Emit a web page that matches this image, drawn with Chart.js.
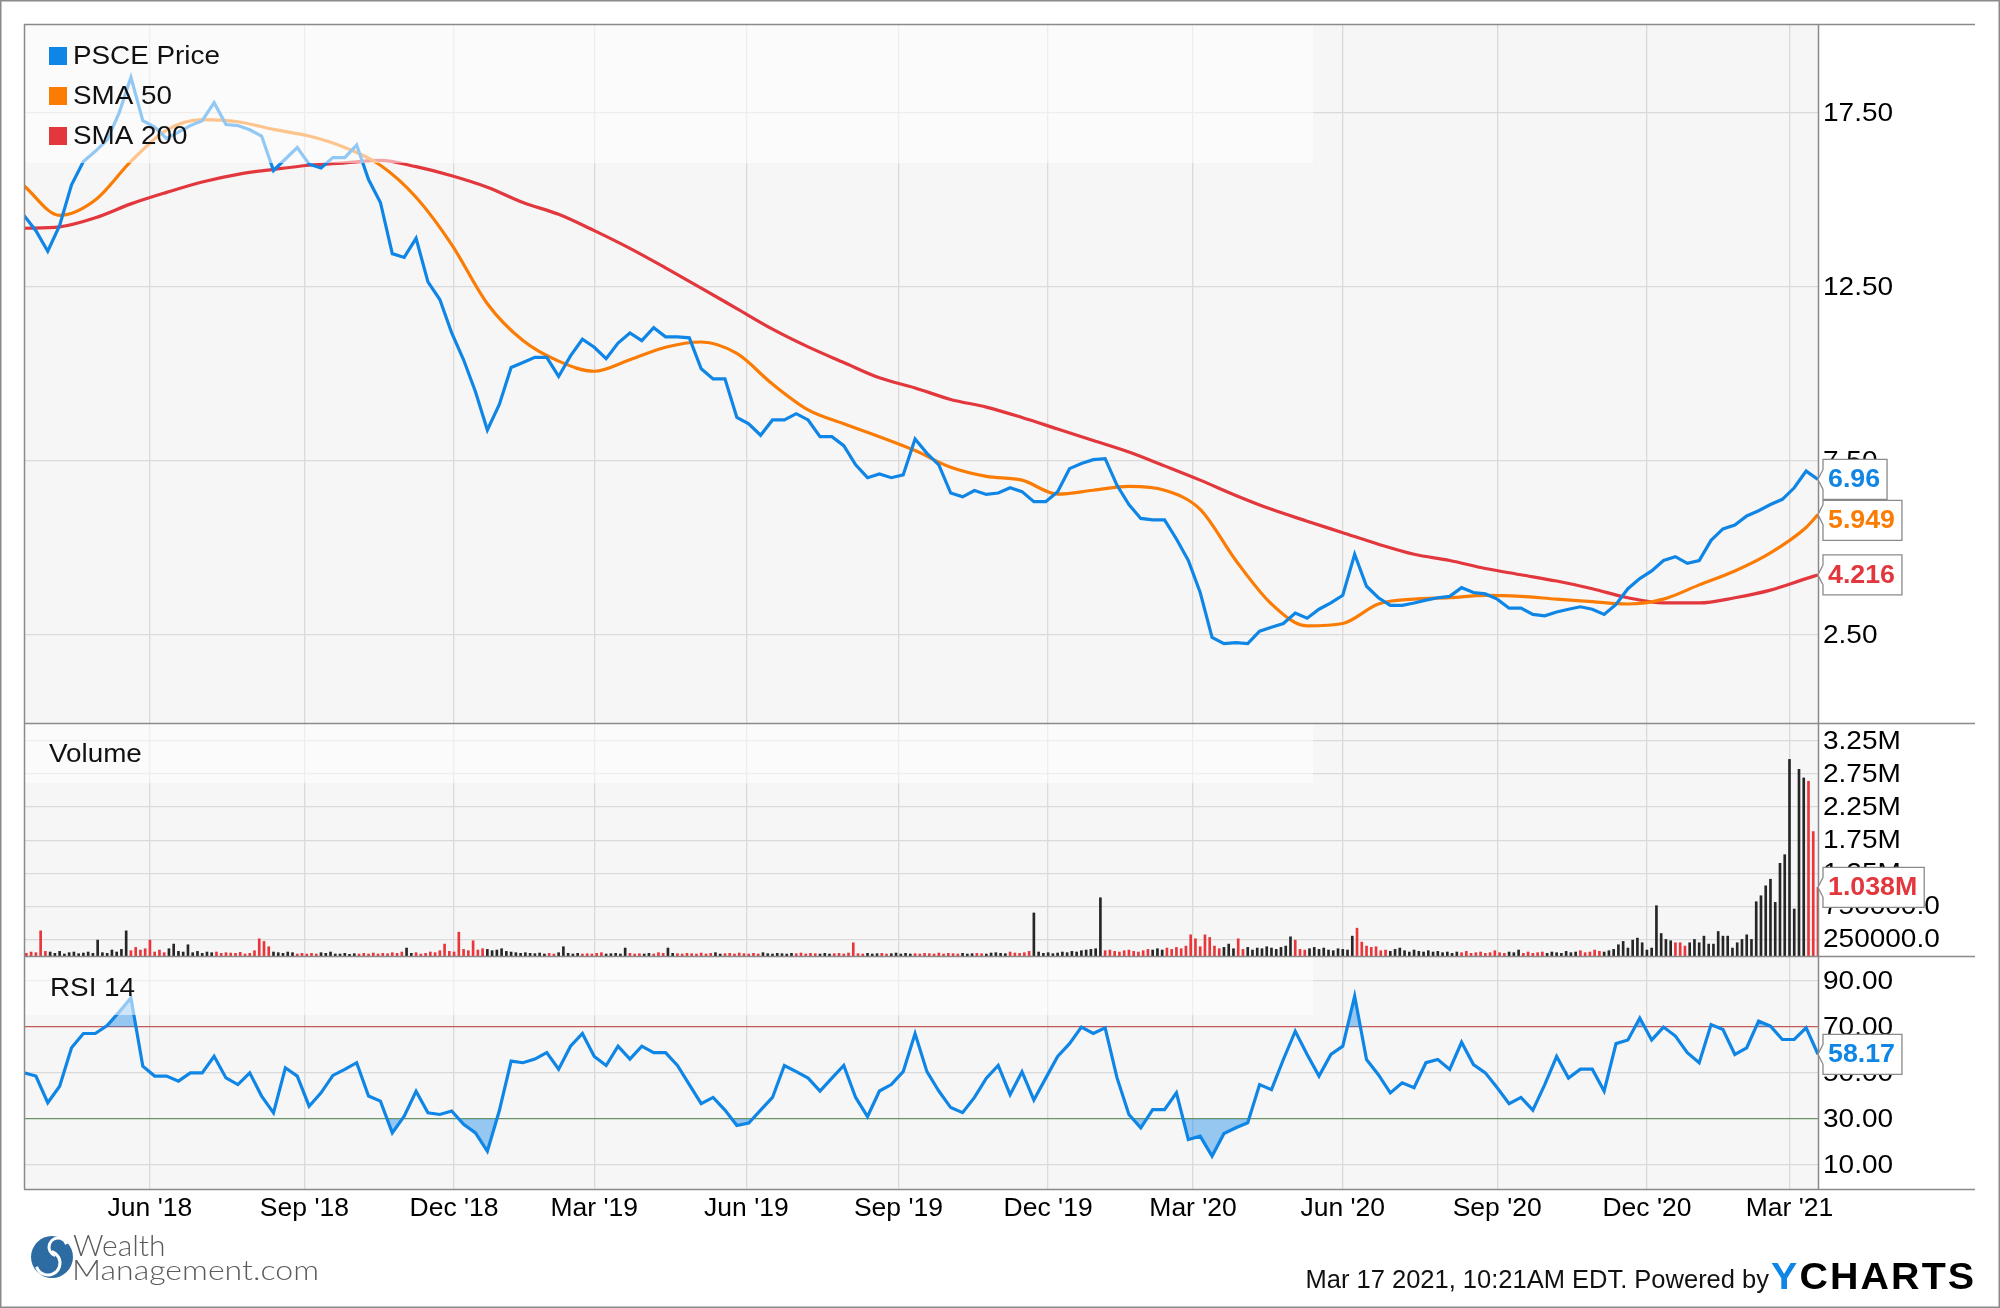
<!DOCTYPE html>
<html lang="en">
<head>
  <meta charset="UTF-8">
  <title>PSCE Price, SMA, Volume and RSI</title>
  <script src="https://cdn.jsdelivr.net/npm/chart.js"></script>
  <style>
    html, body { margin: 0; padding: 0; background: #fff; }
    canvas { display: block; }
  </style>
</head>
<body>
  <canvas id="psceChart" width="2000" height="1308"></canvas>

  <script>
    // x = trading day counted from mid-March 2018 (day 755 = Mar 17 2021)
    const lastDay = 755;
    const monthTicks = [53, 118, 181, 240, 304, 368, 431, 492, 555, 620, 683, 743];
    const monthLabels = ["Jun '18", "Sep '18", "Dec '18", "Mar '19", "Jun '19", "Sep '19",
                         "Dec '19", "Mar '20", "Jun '20", "Sep '20", "Dec '20", "Mar '21"];

    // PSCE price, one reading every 5 trading days
    const priceStep = 5;
    const price = [
      14.55, 14.11, 13.52, 14.26, 15.43, 16.10, 16.39, 16.72, 17.49, 18.52,
      17.27, 17.09, 16.76, 16.94, 17.13, 17.27, 17.79, 17.16, 17.13, 17.01,
      16.83, 15.84, 16.17, 16.50, 16.02, 15.91, 16.21, 16.21, 16.57, 15.58,
      14.92, 13.45, 13.34, 13.89, 12.64, 12.13, 11.17, 10.40, 9.48, 8.38,
      9.11, 10.18, 10.32, 10.47, 10.47, 9.92, 10.51, 10.99, 10.76, 10.43,
      10.88, 11.17, 10.95, 11.32, 11.06, 11.06, 11.03, 10.14, 9.85, 9.85,
      8.74, 8.56, 8.23, 8.67, 8.67, 8.85, 8.67, 8.19, 8.19, 7.93,
      7.38, 7.01, 7.12, 7.01, 7.09, 8.12, 7.71, 7.38, 6.57, 6.46,
      6.64, 6.53, 6.57, 6.72, 6.61, 6.32, 6.32, 6.61, 7.27, 7.42,
      7.53, 7.56, 6.79, 6.24, 5.84, 5.80, 5.80, 5.25, 4.63, 3.71,
      2.42, 2.24, 2.27, 2.24, 2.60, 2.71, 2.82, 3.12, 2.97, 3.23,
      3.41, 3.63, 4.81, 3.89, 3.56, 3.34, 3.34, 3.41, 3.49, 3.56,
      3.60, 3.85, 3.71, 3.67, 3.52, 3.26, 3.26, 3.08, 3.04, 3.15,
      3.23, 3.30, 3.23, 3.08, 3.37, 3.82, 4.11, 4.33, 4.63, 4.74,
      4.55, 4.63, 5.21, 5.54, 5.65, 5.91, 6.06, 6.24, 6.39, 6.72,
      7.20, 6.96
    ];

    // moving averages, one reading every 15 trading days plus the last day
    const smaStep = 15;
    const sma50 = [
      15.40, 14.55, 14.99, 16.10, 17.00, 17.30, 17.24, 17.02, 16.83, 16.50,
      15.99, 15.07, 13.71, 12.01, 10.95, 10.36, 10.07, 10.40, 10.76, 10.91,
      10.58, 9.70, 8.96, 8.56, 8.19, 7.79, 7.31, 7.05, 6.94, 6.54,
      6.65, 6.76, 6.65, 6.10, 4.63, 3.38, 2.75, 2.82, 3.38, 3.52,
      3.56, 3.63, 3.60, 3.52, 3.45, 3.38, 3.52, 3.93, 4.33, 4.85,
      5.58, 5.949
    ];
    const sma200 = [
      14.18, 14.22, 14.48, 14.88, 15.21, 15.51, 15.73, 15.87, 15.99, 16.06,
      16.13, 15.95, 15.69, 15.36, 14.92, 14.58, 14.11, 13.60, 13.04, 12.46,
      11.87, 11.28, 10.77, 10.32, 9.88, 9.59, 9.26, 9.04, 8.74, 8.41,
      8.08, 7.75, 7.35, 6.94, 6.50, 6.10, 5.76, 5.43, 5.10, 4.81,
      4.63, 4.40, 4.22, 4.04, 3.82, 3.56, 3.41, 3.41, 3.56, 3.78,
      4.11, 4.216
    ];

    // volume in thousands of shares, every other trading day (days 1, 3, ... 755)
    const volumeStep = 2;
    const volume = [
      40, 60, 50, 380, 70, 60, 40, 70, 30, 50, 60, 35, 45, 60, 40, 240, 50, 40, 90, 60,
      100, 380, 80, 130, 90, 110, 240, 60, 90, 50, 110, 180, 70, 60, 170, 50, 70, 40, 60, 50,
      60, 40, 50, 45, 40, 55, 30, 40, 80, 260, 220, 140, 60, 50, 40, 60, 50, 30, 40, 30,
      40, 30, 50, 40, 60, 30, 30, 40, 25, 35, 30, 40, 30, 45, 30, 40, 35, 50, 40, 60,
      120, 40, 50, 30, 40, 60, 50, 80, 180, 70, 60, 360, 100, 80, 230, 90, 110, 100, 80, 90,
      110, 70, 60, 50, 40, 50, 40, 35, 45, 30, 40, 30, 50, 140, 40, 30, 40, 30, 35, 30,
      40, 50, 30, 35, 40, 30, 120, 40, 30, 35, 30, 40, 30, 50, 40, 120, 40, 35, 30, 40,
      35, 30, 45, 30, 40, 50, 30, 35, 40, 30, 45, 35, 30, 40, 30, 50, 35, 30, 40, 35,
      30, 40, 35, 45, 30, 40, 35, 30, 40, 30, 35, 40, 30, 45, 200, 35, 30, 40, 30, 35,
      40, 30, 35, 45, 30, 40, 30, 35, 30, 40, 35, 30, 45, 30, 40, 35, 30, 40, 30, 35,
      40, 35, 30, 45, 50, 40, 35, 60, 45, 40, 50, 70, 650, 60, 40, 50, 35, 45, 60, 50,
      70, 60, 80, 90, 100, 110, 880, 80, 90, 70, 60, 80, 90, 70, 60, 80, 100, 90, 110, 90,
      120, 100, 130, 110, 150, 320, 260, 140, 320, 280, 150, 110, 130, 180, 110, 260, 100, 130, 90, 120,
      110, 140, 120, 100, 130, 150, 290, 240, 100, 90, 110, 130, 100, 120, 90, 80, 110, 100, 90, 300,
      420, 210, 150, 130, 140, 80, 90, 70, 100, 120, 80, 60, 90, 70, 60, 80, 60, 70, 50, 60,
      40, 60, 50, 70, 40, 50, 60, 40, 50, 80, 50, 40, 60, 50, 90, 40, 60, 40, 50, 60,
      40, 60, 50, 40, 70, 50, 60, 80, 50, 60, 90, 70, 60, 80, 100, 170, 220, 120, 240, 270,
      200, 90, 120, 760, 340, 250, 230, 200, 200, 150, 200, 250, 200, 300, 180, 180, 370, 300, 300, 120,
      200, 250, 320, 250, 820, 910, 1060, 1160, 810, 1400, 1530, 2970, 710, 2820, 2690, 2640, 1880, 1038
    ];

    // RSI 14, one reading every 5 trading days
    const rsiStep = 5;
    const rsi14 = [
      50.1, 48.7, 37.1, 44.3, 61.0, 67.2, 67.2, 70.7, 76.5, 82.7,
      53.0, 48.7, 48.7, 46.5, 50.1, 50.1, 57.3, 47.9, 45.0, 50.1,
      40.0, 32.7, 52.3, 48.7, 35.6, 41.4, 49.0, 51.6, 54.5, 40.0,
      37.8, 24.0, 31.3, 42.1, 32.7, 32.0, 33.5, 27.7, 24.0, 16.0,
      33.5, 55.2, 54.5, 56.1, 58.9, 51.7, 61.7, 67.2, 57.2, 53.3,
      61.7, 56.1, 61.7, 58.9, 58.9, 53.3, 45.0, 36.7, 39.4, 33.9,
      27.2, 28.3, 33.9, 39.4, 53.3, 50.6, 47.8, 42.2, 47.8, 53.3,
      39.4, 31.1, 42.2, 45.0, 50.6, 67.2, 50.6, 42.2, 35.0, 32.8,
      39.4, 47.8, 53.3, 40.6, 50.6, 38.3, 47.8, 57.2, 62.8, 70.0,
      67.2, 69.7, 47.9, 32.0, 26.2, 34.1, 34.1, 41.4, 21.1, 22.6,
      13.9, 23.7, 26.2, 28.4, 45.0, 42.8, 55.9, 68.2, 58.1, 48.7,
      58.1, 61.7, 83.4, 55.9, 49.3, 41.4, 45.8, 43.6, 54.5, 55.9,
      51.6, 63.4, 53.7, 50.1, 43.6, 36.7, 39.4, 33.9, 45.0, 57.2,
      47.8, 51.7, 51.7, 42.2, 62.8, 64.4, 73.9, 64.4, 70.0, 66.1,
      58.9, 54.5, 71.1, 68.9, 58.1, 61.0, 72.6, 70.4, 64.6, 64.6,
      69.7, 58.17
    ];

    const priceTicks = [2.5, 7.5, 12.5, 17.5];
    const volumeTicks = [250000, 750000, 1250000, 1750000, 2250000, 2750000, 3250000];
    const volumeTickLabels = ['250000.0', '750000.0', '1.25M', '1.75M', '2.25M', '2.75M', '3.25M'];
    const rsiTicks = [10, 30, 50, 70, 90];

    const FONT = '"Liberation Sans", Arial, sans-serif';
    const BLUE = '#0f86e6';
    const ORANGE = '#fb7c05';
    const RED = '#e2373c';
    const GRID = '#dadada';
    const FRAME = '#8a8a8a';
    const AXIS_W = 157;

    Chart.defaults.font.family = FONT;

    // build the point lists the library wants
    const onDays = (vals, step) => vals.map((v, i) => ({ x: Math.min(i * step, lastDay), y: v }));
    const pricePts = onDays(price, priceStep);
    const sma50Pts = onDays(sma50, smaStep);
    const sma200Pts = onDays(sma200, smaStep);
    const rsiPts = onDays(rsi14, rsiStep);
    const volPts = volume.map((v, i) => ({ x: 1 + i * volumeStep, y: v * 1000 }));
    const volColors = volume.map((v, i) => {
      const day = 1 + i * volumeStep;
      const k = Math.min(Math.floor(day / priceStep), price.length - 2);
      return price[k + 1] >= price[k] ? '#262626' : '#e8363b';
    });

    // the reference type is a little wider than Arial, so stretch it
    function wideText(ctx, text, x, y, sx, align) {
      const w = ctx.measureText(text).width * sx;
      const left = align === 'center' ? x - w / 2 : (align === 'right' ? x - w : x);
      ctx.save();
      ctx.textAlign = 'left';
      ctx.translate(left, y);
      ctx.scale(sx, 1);
      ctx.fillText(text, 0, 0);
      ctx.restore();
      return w;
    }

    function drawTag(ctx, text, color, x, tipY, cy) {
      ctx.font = 'bold 25px ' + FONT;
      const tw = ctx.measureText(text).width * 1.07;
      const w = tw + 12;
      const h = 40, l = x + 5, top = cy - h / 2;
      const n1 = Math.max(top + 2, tipY - 10), n2 = Math.min(top + h - 2, tipY + 10);
      ctx.beginPath();
      ctx.moveTo(l, top);
      ctx.lineTo(l + w, top);
      ctx.lineTo(l + w, top + h);
      ctx.lineTo(l, top + h);
      ctx.lineTo(l, n2);
      ctx.lineTo(x, tipY);
      ctx.lineTo(l, n1);
      ctx.closePath();
      ctx.fillStyle = '#fff';
      ctx.fill();
      ctx.strokeStyle = FRAME;
      ctx.lineWidth = 1.3;
      ctx.stroke();
      ctx.fillStyle = color;
      ctx.textBaseline = 'middle';
      wideText(ctx, text, l + 5, cy + 1, 1.07, 'left');
      return top + h;
    }

    const panelDecor = {
      id: 'panelDecor',
      beforeDraw(chart) {
        const { ctx, chartArea: a } = chart;
        ctx.save();
        ctx.fillStyle = '#fff';
        ctx.fillRect(0, 0, chart.width, chart.height);
        ctx.fillStyle = '#f6f6f6';
        ctx.fillRect(a.left, a.top, a.right - a.left, a.bottom - a.top);
        ctx.restore();
      },
      afterDatasetsDraw(chart) {
        const { ctx, chartArea: a, scales } = chart;
        const yP = scales.yPrice, yV = scales.yVol, yR = scales.yRsi;
        ctx.save();

        // pale legend panels
        ctx.fillStyle = 'rgba(255,255,255,0.55)';
        ctx.fillRect(a.left, yP.top, 1289, 139);
        ctx.fillRect(a.left, yV.top, 1289, 60);
        ctx.fillRect(a.left, yR.top, 1289, 59);

        // legend
        ctx.font = '26px ' + FONT;
        ctx.textBaseline = 'middle';
        [['PSCE Price', BLUE], ['SMA 50', ORANGE], ['SMA 200', RED]].forEach(([t, c], i) => {
          const cy = yP.top + 32 + i * 40;
          ctx.fillStyle = c;
          ctx.fillRect(a.left + 25, cy - 9, 18, 18);
          ctx.fillStyle = '#111';
          wideText(ctx, t, a.left + 49, cy + 1, 1.07, 'left');
        });
        wideText(ctx, 'Volume', a.left + 25, yV.top + 32, 1.07, 'left');
        wideText(ctx, 'RSI 14', a.left + 26, yR.top + 33, 1.07, 'left');

        // axis labels
        ctx.fillStyle = '#000';
        ctx.font = '25px ' + FONT;
        [[yP, priceTicks, v => v.toFixed(2)],
         [yV, volumeTicks, v => volumeTickLabels[volumeTicks.indexOf(v)]],
         [yR, rsiTicks, v => v.toFixed(2)]].forEach(([s, ticks, fmt]) => {
          ticks.forEach(v => wideText(ctx, fmt(v), a.right + 5, s.getPixelForValue(v) + 1, 1.12, 'left'));
        });
        monthTicks.forEach((t, i) => {
          wideText(ctx, monthLabels[i], scales.x.getPixelForValue(t), a.bottom + 20, 1.06, 'center');
        });

        // panel frames
        ctx.strokeStyle = FRAME;
        ctx.lineWidth = 1.5;
        ctx.beginPath();
        [yP.top, yV.top, yR.top, yR.bottom].forEach(y => {
          ctx.moveTo(a.left, y + 0.5);
          ctx.lineTo(1975, y + 0.5);
        });
        ctx.moveTo(a.left + 0.5, a.top);
        ctx.lineTo(a.left + 0.5, a.bottom);
        ctx.moveTo(a.right + 0.5, a.top);
        ctx.lineTo(a.right + 0.5, a.bottom);
        ctx.stroke();

        // last-value tags
        let end = -1e9;
        [[price, BLUE, 2], [sma50, ORANGE, 3], [sma200, RED, 3]].forEach(([arr, c, d]) => {
          const v = arr[arr.length - 1];
          const tipY = yP.getPixelForValue(v);
          const cy = Math.max(tipY, end + 21);
          end = drawTag(ctx, v.toFixed(d), c, a.right, tipY, cy);
        });
        const lastVol = volume[volume.length - 1];
        const vy = yV.getPixelForValue(lastVol * 1000);
        drawTag(ctx, (lastVol / 1000).toFixed(3) + 'M', RED, a.right, vy, vy);
        const lastRsi = rsi14[rsi14.length - 1];
        const ry = yR.getPixelForValue(lastRsi);
        drawTag(ctx, lastRsi.toFixed(2), BLUE, a.right, ry, ry);
        ctx.restore();
      },
      afterDraw(chart) {
        const { ctx } = chart;
        ctx.save();
        // outer frame
        ctx.strokeStyle = FRAME;
        ctx.lineWidth = 1.5;
        ctx.strokeRect(0.75, 0.75, chart.width - 1.5, chart.height - 1.5);

        // footer text
        ctx.fillStyle = '#111';
        ctx.textBaseline = 'alphabetic';
        ctx.textAlign = 'right';
        ctx.font = '25.5px ' + FONT;
        ctx.fillText('Mar 17 2021, 10:21AM EDT. Powered by', 1769, 1288);

        ctx.textAlign = 'left';
        ctx.font = 'bold 37px ' + FONT;
        const wy = ctx.measureText('Y').width;
        const wRest = ctx.measureText('CHARTS').width;
        const sx = 201 / (wy + wRest + 10);
        ctx.translate(1771, 1289);
        ctx.scale(sx, 1);
        ctx.fillStyle = BLUE;
        ctx.fillText('Y', 0, 0);
        ctx.fillStyle = '#000';
        ctx.letterSpacing = '2px';
        ctx.fillText('CHARTS', wy + 2, 0);
        ctx.restore();

        // WealthManagement.com mark
        ctx.save();
        ctx.fillStyle = '#2c6ca3';
        ctx.beginPath();
        ctx.arc(52, 1257, 21, 0, Math.PI * 2);
        ctx.fill();
        ctx.strokeStyle = '#fff';
        ctx.lineWidth = 3;
        ctx.beginPath();
        ctx.arc(58, 1247, 9, Math.PI * 0.6, Math.PI * 1.9);
        ctx.stroke();
        ctx.beginPath();
        ctx.arc(48, 1263, 12, Math.PI * 1.6, Math.PI * 0.9);
        ctx.stroke();
        ctx.fillStyle = '#5b5b5b';
        ctx.textAlign = 'left';
        ctx.textBaseline = 'alphabetic';
        ctx.font = '300 30px Lato, ' + FONT;
        ctx.fillText('Wealth', 73, 1256);
        ctx.font = '300 28px Lato, ' + FONT;
        const mw = ctx.measureText('Management.com').width;
        ctx.translate(72, 1280);
        ctx.scale(247 / mw, 1);
        ctx.fillText('Management.com', 0, 0);
        ctx.restore();
      }
    };

    const yAxisBase = (weight, min, max, ticks, gridColor) => ({
      position: 'right',
      stack: 'panels',
      stackWeight: weight,
      min, max,
      afterBuildTicks: s => { s.ticks = ticks.map(v => ({ value: v })); },
      afterFit: s => { s.width = AXIS_W; },
      ticks: { display: false },
      grid: { color: gridColor || GRID, lineWidth: 1.3, drawTicks: false },
      border: { display: false }
    });

    new Chart(document.getElementById('psceChart').getContext('2d'), {
      type: 'line',
      data: {
        datasets: [
          { label: 'PSCE Price', data: pricePts, yAxisID: 'yPrice', borderColor: BLUE, borderWidth: 3.2, pointRadius: 0, tension: 0 },
          { label: 'SMA 50', data: sma50Pts, yAxisID: 'yPrice', borderColor: ORANGE, borderWidth: 3.2, pointRadius: 0, cubicInterpolationMode: 'monotone' },
          { label: 'SMA 200', data: sma200Pts, yAxisID: 'yPrice', borderColor: RED, borderWidth: 3.2, pointRadius: 0, cubicInterpolationMode: 'monotone' },
          { type: 'bar', label: 'Volume', data: volPts, yAxisID: 'yVol', backgroundColor: volColors, barThickness: 2, borderWidth: 0 },
          { label: 'RSI 14', data: rsiPts, yAxisID: 'yRsi', borderColor: BLUE, borderWidth: 3.2, pointRadius: 0, tension: 0,
            fill: { target: { value: 70 }, above: 'rgba(15,134,230,0.42)', below: 'rgba(0,0,0,0)' } },
          { label: 'RSI oversold', data: rsiPts, yAxisID: 'yRsi', borderWidth: 0, borderColor: 'rgba(0,0,0,0)', pointRadius: 0, tension: 0,
            fill: { target: { value: 30 }, above: 'rgba(0,0,0,0)', below: 'rgba(15,134,230,0.42)' } }
        ]
      },
      options: {
        responsive: false,
        animation: false,
        devicePixelRatio: 1,
        layout: { padding: { left: 24, top: 24, right: 25, bottom: 79 } },
        plugins: { legend: { display: false }, tooltip: { enabled: false } },
        scales: {
          x: {
            type: 'linear', min: 0, max: lastDay, offset: false,
            afterBuildTicks: s => { s.ticks = monthTicks.map(v => ({ value: v })); },
            afterFit: s => { s.height = 40; },
            ticks: { display: false },
            grid: { color: GRID, lineWidth: 1.3, drawTicks: false, offset: false },
            border: { display: false }
          },
          yPrice: yAxisBase(699, -0.04, 20.05, priceTicks),
          yVol: yAxisBase(233, 0, 3520000, volumeTicks),
          yRsi: yAxisBase(233, -0.4, 100.9, rsiTicks,
            c => c.tick.value === 70 ? '#c45a58' : (c.tick.value === 30 ? '#6a9467' : GRID))
        }
      },
      plugins: [panelDecor]
    });
  </script>
</body>
</html>
